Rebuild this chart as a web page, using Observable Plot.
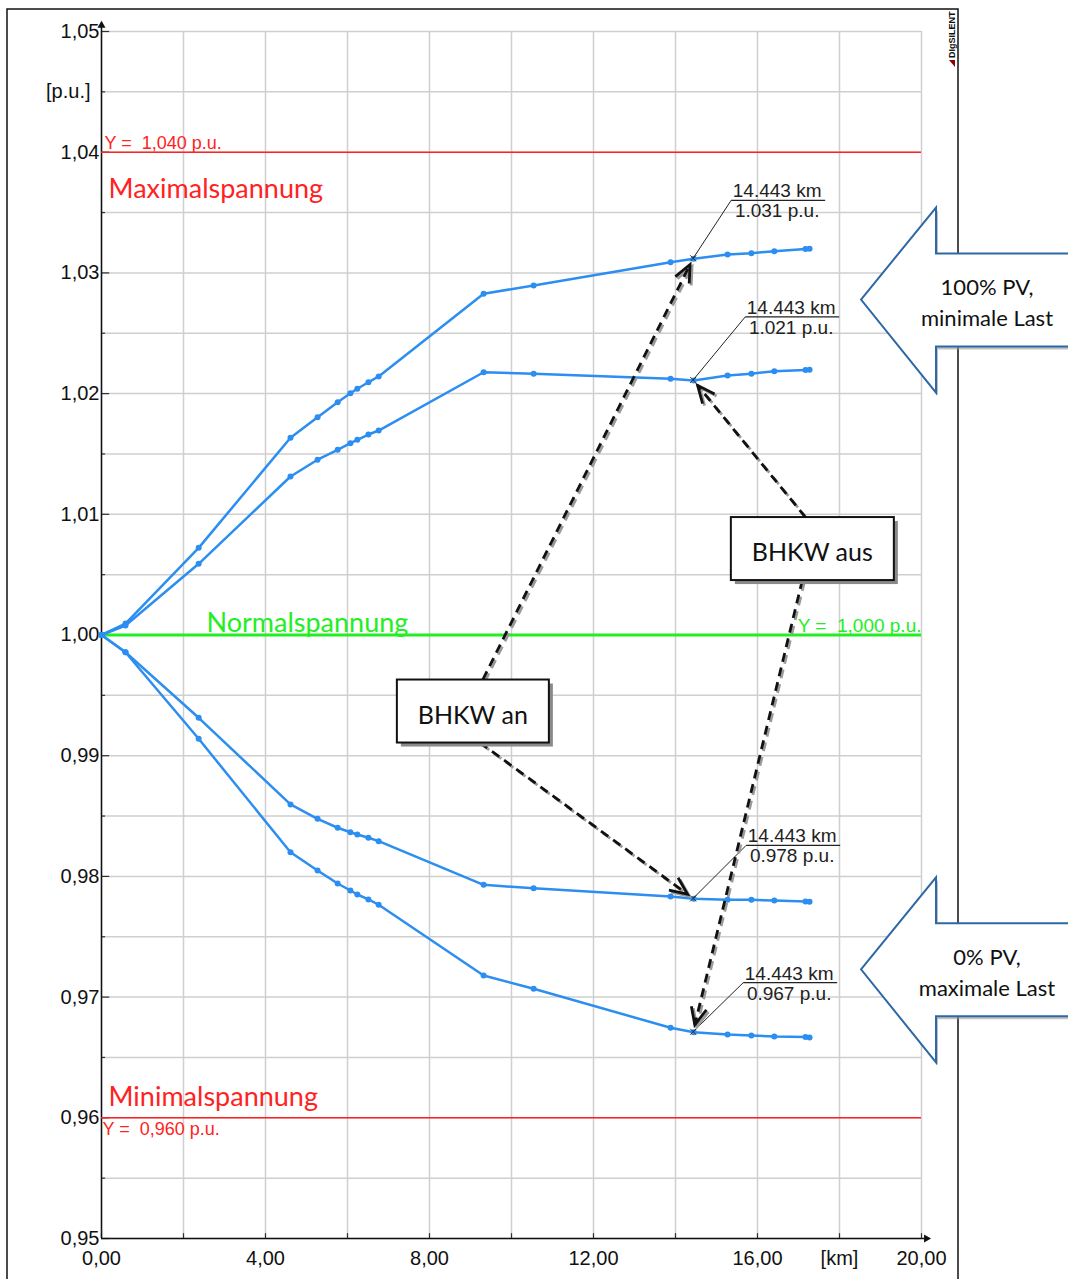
<!DOCTYPE html>
<html><head><meta charset="utf-8">
<script src="https://cdn.jsdelivr.net/npm/d3@7"></script>
<script src="https://cdn.jsdelivr.net/npm/@observablehq/plot@0.6"></script>
<style>
html,body{margin:0;padding:0;background:#fff;}
#chart{position:relative;width:1068px;height:1279px;overflow:hidden;}
</style></head><body><div id="chart"></div>
<script>
// ---- data ----
const distanceKm   = [0, 0.585, 2.37, 4.61, 5.27, 5.76, 6.07, 6.24, 6.51, 6.76, 9.32, 10.54, 13.88, 14.443, 15.27, 15.85, 16.41, 17.17, 17.27];
const pv100BhkwAn  = [1.0, 1.00095, 1.00722, 1.01634, 1.01804, 1.01929, 1.02003, 1.0204, 1.02094, 1.02142, 1.02827, 1.02896, 1.03089, 1.03117, 1.03152, 1.03163, 1.0318, 1.03197, 1.032];
const pv100BhkwAus = [1.0, 1.00079, 1.0059, 1.01313, 1.01452, 1.01534, 1.01589, 1.01617, 1.01661, 1.01694, 1.02177, 1.02164, 1.02123, 1.02109, 1.0215, 1.02164, 1.02186, 1.02195, 1.02198];
const pv0BhkwAn    = [1.0, 0.99857, 0.99314, 0.98596, 0.98477, 0.98403, 0.98366, 0.98347, 0.9832, 0.98292, 0.9793, 0.97902, 0.97833, 0.97814, 0.97806, 0.97806, 0.978, 0.97793, 0.97791];
const pv0BhkwAus   = [1.0, 0.99857, 0.9914, 0.982, 0.98049, 0.97941, 0.97883, 0.9785, 0.97809, 0.97765, 0.97179, 0.97069, 0.96746, 0.96709, 0.9669, 0.96682, 0.96674, 0.96669, 0.96666];
const xTickValues = [0, 4, 8, 12, 16, 20];
const xGridValues = [0, 2, 4, 6, 8, 10, 12, 14, 16, 18, 20];
const yTickValues = [0.95, 0.96, 0.97, 0.98, 0.99, 1.00, 1.01, 1.02, 1.03, 1.04, 1.05];
const yGridValues = [0.95, 0.955, 0.96, 0.965, 0.97, 0.975, 0.98, 0.985, 0.99, 0.995, 1.0, 1.005, 1.01, 1.015, 1.02, 1.025, 1.03, 1.035, 1.04, 1.045, 1.05];
const limitValues = [1.04, 0.96];
const limitNames = ["Maximalspannung", "Minimalspannung"];
const nominalValue = 1.0;
const nominalName = "Normalspannung";
const markerKm = 14.443;
const xUnit = "[km]";
const yUnit = "[p.u.]";
const boxLabels = ["BHKW an", "BHKW aus"];
const caseLabels = [["100% PV,", "minimale Last"], ["0% PV,", "maximale Last"]];

// ---- build table ----
const seriesList = [["pv100_an", pv100BhkwAn], ["pv100_aus", pv100BhkwAus], ["pv0_an", pv0BhkwAn], ["pv0_aus", pv0BhkwAus]];
const rows = [];
seriesList.forEach(([name, vals]) => vals.forEach((v, i) => rows.push({series: name, km: distanceKm[i], v})));
const comma2 = d => d.toFixed(2).replace(".", ",");
const comma3 = d => d.toFixed(3).replace(".", ",");
const BLUE = "#2b8ef0";
const RED = "#ff2222";
const GREEN = "#22ee22";
const sansN = "'Liberation Sans', Arial, sans-serif";
const lato = "Lato, 'Open Sans', sans-serif";

const chart = Plot.plot({
  width: 1068, height: 1279,
  marginLeft: 101, marginRight: 147, marginTop: 31, marginBottom: 41,
  x: {domain: [0, 20], label: null},
  y: {domain: [0.95, 1.05], label: null},
  style: {fontFamily: sansN, fontSize: "20px", color: "#111", background: "transparent"},
  marks: [
    Plot.gridX(xGridValues, {stroke: "#cfcfcf", strokeOpacity: 1, strokeWidth: 1.5}),
    Plot.gridY(yGridValues, {stroke: "#cfcfcf", strokeOpacity: 1, strokeWidth: 1.5}),
    Plot.ruleY(yGridValues, {y: d => d, x1: 0, x2: d => (Math.abs(d * 100 - Math.round(d * 100)) < 1e-6 ? 0.2 : 0.1), stroke: "#333", strokeWidth: 1.2}),
    Plot.ruleX(xGridValues, {x: d => d, y1: 0.95, y2: 0.9504, stroke: "#333", strokeWidth: 1.2}),
    Plot.axisX(xTickValues, {tickSize: 0, tickPadding: 12, tickFormat: comma2, fontSize: 20, label: null}),
    Plot.axisY(yTickValues, {tickSize: 0, tickPadding: 2, tickFormat: comma2, fontSize: 20, label: null}),
    Plot.text([xUnit], {x: 18, y: 0.95, text: d => d, dy: 20, fontSize: 20, fill: "#111"}),
    Plot.text([yUnit], {x: 0, y: 1.045, text: d => d, dx: -11, textAnchor: "end", fontSize: 20, fill: "#111"}),
    Plot.ruleX([0], {y1: 0.95, y2: 1.0505, stroke: "#111", strokeWidth: 1.5}),
    Plot.ruleY([0.95], {x1: 0, x2: 20.1, stroke: "#111", strokeWidth: 1.5}),
    Plot.dot([0], {x: 0, y: 1.0505, symbol: "triangle", r: 3, fill: "#111", stroke: null}),
    Plot.dot([0], {x: 20.12, y: 0.95, symbol: "triangle", r: 3, rotate: 90, fill: "#111", stroke: null}),
    // limit lines
    Plot.ruleY(limitValues, {x1: 0, x2: 20, stroke: RED, strokeWidth: 1.5}),
    Plot.ruleY([nominalValue], {x1: 0, x2: 20, stroke: GREEN, strokeWidth: 3}),
    Plot.text([limitValues[0]], {x: 0, y: d => d, text: d => `Y =  ${comma3(d)} p.u.`, dx: 3, dy: -3, lineAnchor: "bottom", textAnchor: "start", fill: RED, fontSize: 18}),
    Plot.text([limitValues[1]], {x: 0, y: d => d, text: d => `Y =  ${comma3(d)} p.u.`, dx: 1, dy: 4, lineAnchor: "top", textAnchor: "start", fill: RED, fontSize: 18}),
    Plot.text([nominalValue], {x: 20, y: d => d, text: d => `Y =  ${comma3(d)} p.u.`, dx: 0, dy: -3, lineAnchor: "bottom", textAnchor: "end", fill: GREEN, fontSize: 19}),
    Plot.text([limitNames[0]], {x: 0, y: limitValues[0], text: d => d, dx: 7, dy: 37, textAnchor: "start", fill: RED, fontSize: 27, fontFamily: lato}),
    Plot.text([limitNames[1]], {x: 0, y: limitValues[1], text: d => d, dx: 7, dy: -20, textAnchor: "start", fill: RED, fontSize: 27, fontFamily: lato}),
    Plot.text([nominalName], {x: 2.56, y: nominalValue, text: d => d, dy: -12, textAnchor: "start", fill: GREEN, fontSize: 27, fontFamily: lato}),
    // series
    Plot.line(rows, {x: "km", y: "v", z: "series", stroke: BLUE, strokeWidth: 2.5}),
    Plot.dot(rows, {x: "km", y: "v", r: 3, fill: BLUE, stroke: null})
  ]
});
document.getElementById("chart").appendChild(chart);

// ---- annotations (positioned through the chart's scales) ----
const sx = chart.scale("x"), sy = chart.scale("y");
const X = v => sx.apply(v), Y = v => sy.apply(v);
const svg = d3.select(chart);
const idx = distanceKm.indexOf(markerKm);

// frame
svg.append("rect").attr("x", 7).attr("y", 9).attr("width", 951).attr("height", 1300)
  .attr("fill", "none").attr("stroke", "#111").attr("stroke-width", 1.5);

// logo
const logo = svg.append("g").attr("transform", "translate(955,67) rotate(-90)");
logo.append("path").attr("d", "M0,0 L7,-6 L7,0 Z").attr("fill", "#8b0000");
logo.append("text").attr("x", 9).attr("y", 0).attr("text-anchor", "start")
  .style("font-size", "9px").style("font-weight", "bold").style("font-family", sansN)
  .attr("fill", "#111").text("DIgSILENT");

// callouts
const callouts = [
  {vals: pv100BhkwAn, dx: 38, dy: -58},
  {vals: pv100BhkwAus, dx: 52, dy: -63},
  {vals: pv0BhkwAn, dx: 53, dy: -53},
  {vals: pv0BhkwAus, dx: 50, dy: -49}
];
callouts.forEach(c => {
  const v = c.vals[idx];
  const px = X(markerKm), py = Y(v);
  const ax = px + c.dx, ay = py + c.dy;
  const g = svg.append("g");
  g.append("path").attr("d", `M${px - 3},${py - 3}L${px + 3},${py + 3}M${px - 3},${py + 3}L${px + 3},${py - 3}`).attr("stroke", "#333").attr("stroke-width", 1);
  g.append("line").attr("x1", px).attr("y1", py).attr("x2", ax).attr("y2", ay).attr("stroke", "#222").attr("stroke-width", 1);
  g.append("line").attr("x1", ax).attr("y1", ay).attr("x2", ax + 94).attr("y2", ay).attr("stroke", "#222").attr("stroke-width", 1.2);
  g.append("text").attr("x", ax + 46).attr("y", ay - 3).attr("text-anchor", "middle").attr("font-family", sansN).attr("font-size", 19).attr("fill", "#222").text(`${markerKm.toFixed(3)} km`);
  g.append("text").attr("x", ax + 46).attr("y", ay + 17).attr("text-anchor", "middle").attr("font-family", sansN).attr("font-size", 19).attr("fill", "#222").text(`${v.toFixed(3)} p.u.`);
});

// dashed arrows + boxes
const boxes = [
  {label: boxLabels[0], km: 9.07, v: 0.99366, w: 152, h: 63, topDx: 10, botDx: 7, topTarget: pv100BhkwAn, botTarget: pv0BhkwAn},
  {label: boxLabels[1], km: 17.35, v: 1.00712, w: 163, h: 63, topDx: -7, botDx: -10, topTarget: pv100BhkwAus, botTarget: pv0BhkwAus}
];
function dashedArrow(x1, y1, x2, y2) {
  const a = Math.atan2(y2 - y1, x2 - x1);
  const gap = 7;
  const tx = x2 - gap * Math.cos(a), ty = y2 - gap * Math.sin(a);
  const L = 19, th = 0.42;
  const p1 = [tx - L * Math.cos(a - th), ty - L * Math.sin(a - th)];
  const p2 = [tx - L * Math.cos(a + th), ty - L * Math.sin(a + th)];
  [[2, 2, "#9a9a9a"], [0, 0, "#111"]].forEach(([ox, oy, col]) => {
    const g = svg.append("g").attr("transform", `translate(${ox},${oy})`);
    g.append("line").attr("x1", x1).attr("y1", y1).attr("x2", tx).attr("y2", ty)
      .attr("stroke", col).attr("stroke-width", 2.8).attr("stroke-dasharray", "9,6");
    g.append("path").attr("d", `M${p1[0]},${p1[1]}L${tx},${ty}L${p2[0]},${p2[1]}`)
      .attr("fill", "none").attr("stroke", col).attr("stroke-width", 2.8);
  });
}
boxes.forEach(b => {
  const cx = X(b.km), cy = Y(b.v);
  const top = cy - b.h / 2, bot = cy + b.h / 2;
  dashedArrow(cx + b.topDx, top, X(markerKm), Y(b.topTarget[idx]));
  dashedArrow(cx + b.botDx, bot, X(markerKm), Y(b.botTarget[idx]));
});
boxes.forEach(b => {
  const cx = X(b.km), cy = Y(b.v);
  svg.append("rect").attr("x", cx - b.w / 2 + 4).attr("y", cy - b.h / 2 + 4).attr("width", b.w).attr("height", b.h).attr("fill", "#8a8a8a");
  svg.append("rect").attr("x", cx - b.w / 2).attr("y", cy - b.h / 2).attr("width", b.w).attr("height", b.h)
    .attr("fill", "#fff").attr("stroke", "#111").attr("stroke-width", 2);
  svg.append("text").attr("x", cx).attr("y", cy + 4).attr("dy", "0.35em").attr("text-anchor", "middle")
    .attr("font-family", lato).attr("font-size", 25).attr("fill", "#111").text(b.label);
});

// block arrows
const blockArrows = [
  {km: 18.537, v: 1.02775, lines: caseLabels[0]},
  {km: 18.537, v: 0.97226, lines: caseLabels[1]}
];
blockArrows.forEach(ba => {
  const tx = X(ba.km), ty = Y(ba.v);
  const shape = [[0, 0], [75, -92], [75, -46], [220, -46], [220, 47], [75, 47], [75, 93]];
  const d = "M" + shape.map(([dx, dy]) => `${tx + dx},${ty + dy}`).join("L") + "Z";
  svg.append("path").attr("d", d).attr("transform", "translate(2,3)").attr("fill", "#9a9a9a").attr("opacity", 0.6);
  svg.append("path").attr("d", d).attr("fill", "#fff").attr("stroke", "#2d68a6").attr("stroke-width", 2);
  ba.lines.forEach((t, i) => {
    svg.append("text").attr("x", tx + 126).attr("y", ty + (i === 0 ? -12 : 19)).attr("dy", "0.35em")
      .attr("text-anchor", "middle").attr("font-family", lato).attr("font-size", 22).attr("fill", "#111").text(t);
  });
});
</script></body></html>
